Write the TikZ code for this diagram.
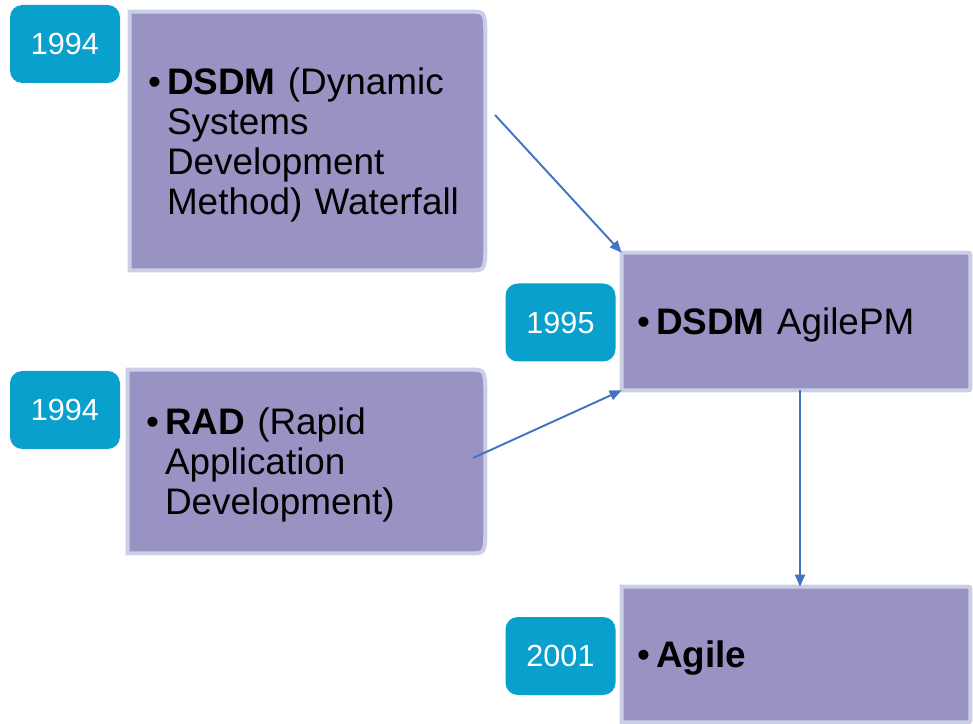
\documentclass[tikz,border=0pt]{standalone}
\usepackage{fontspec}
\setmainfont{Liberation Sans}
\usetikzlibrary{backgrounds,calc,arrows.meta}

\definecolor{boxpurple}{HTML}{9893C2}
\definecolor{boxedge}{HTML}{CBCFE6}
\definecolor{yearblue}{HTML}{0AA0CD}
\definecolor{arrowblue}{HTML}{4472C4}

\tikzset{
  yeartag/.style={fill=yearblue, rounded corners=7pt, minimum width=2.2cm,
    minimum height=1.56cm, inner sep=0pt, text=white,
    font=\fontsize{17.4}{20}\selectfont},
  itembox/.style={text width=#1, inner xsep=0.36cm, inner ysep=0pt,
    align=left, font=\fontsize{21}{22.8}\selectfont},
  boxfill/.style={fill=boxpurple, draw=boxedge, line width=2.3pt},
  link/.style={-{Triangle[length=0.24cm,width=0.2cm]}, draw=arrowblue,
    fill=arrowblue, line width=1.1pt},
}

% bullet, then the lines of the item
\newcommand\bul[1]{\rule{0pt}{22pt}\makebox[0.38cm][l]{\textbullet}%
  \begin{tabular}[t]{@{}l@{}}#1\end{tabular}}

% purple box behind a node, rounded on the right
\newcommand\boxshape[3]{%
  \path[boxfill] (#1.north west) -- ([xshift=-#2]#1.north east)
    .. controls (#1.north east) .. ([yshift=-#3]#1.north east)
    -- ([yshift=#3]#1.south east)
    .. controls (#1.south east) .. ([xshift=-#2]#1.south east)
    -- (#1.south west) -- cycle;}

\begin{document}
\begin{tikzpicture}
  \useasboundingbox (0,0) rectangle (19.46,14.46);

  % boxes
  \node[itembox=6.38cm, minimum height=5.16cm] (dsdm) at (6.15,11.64)
    {\bul{\textbf{DSDM} (Dynamic\\Systems\\Development\\Method) Waterfall}};
  \node[itembox=6.42cm, minimum height=3.66cm] (rad) at (6.13,5.23)
    {\bul{\textbf{RAD} (Rapid\\Application\\Development)}};
  \node[itembox=6.36cm, inner xsep=0.3cm, minimum height=2.74cm] (agilepm) at (15.92,8.03)
    {\bul{\textbf{DSDM} AgilePM}};
  \node[itembox=6.36cm, inner xsep=0.3cm, minimum height=2.7cm] (agile) at (15.92,1.37)
    {\bul{\textbf{Agile}}};

  \begin{scope}[on background layer]
    \boxshape{dsdm}{0.3cm}{0.6cm}
    \boxshape{rad}{0.3cm}{0.6cm}
    \boxshape{agilepm}{0.1cm}{0.1cm}
    \boxshape{agile}{0.1cm}{0.1cm}
  \end{scope}

  % years
  \node[yeartag] (y1) at (1.3,13.58) {1994};
  \node[yeartag] (y2) at (1.3,6.26) {1994};
  \node[yeartag] (y3) at (11.21,8.01) {1995};
  \node[yeartag] (y4) at (11.21,1.34) {2001};

  % arrows
  \coordinate (dsdmout) at (9.9,12.16);
  \coordinate (radout) at (9.46,5.3);
  \draw[link] (dsdmout) -- (agilepm.north west);
  \draw[link] (radout) -- (agilepm.south west);
  \draw[link] ([xshift=0.08cm]agilepm.south) -- ([xshift=0.08cm]agile.north);
\end{tikzpicture}
\end{document}
